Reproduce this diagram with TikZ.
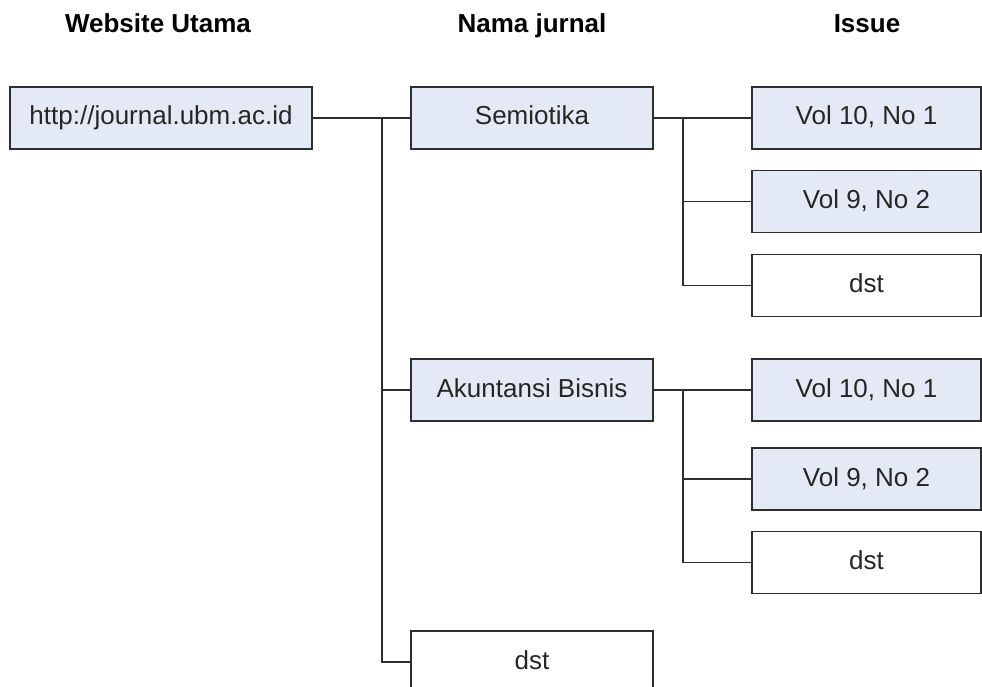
\documentclass[tikz,border=0pt]{standalone}
\usepackage{fontspec}
\setmainfont{Liberation Sans}
\definecolor{boxfill}{HTML}{E4EAF5}
\definecolor{boxdraw}{HTML}{2E2E2E}
\definecolor{txt}{HTML}{262626}
\begin{document}
\begin{tikzpicture}[x=1pt,y=-1pt,
  box/.style={draw=boxdraw,line width=1.4pt,rectangle,inner sep=0pt,
    minimum height=62pt,text height=19pt,text depth=5pt,text=txt,
    font=\fontsize{26}{30}\selectfont},
  bluebox/.style={box,fill=boxfill},
  whitebox/.style={box,fill=white},
  head/.style={font=\fontsize{26}{30}\selectfont\bfseries,text=black,anchor=base,inner sep=0pt},
  conn/.style={draw=boxdraw,line width=1.4pt}]
\useasboundingbox (0,0) rectangle (982,687);
\clip (0,0) rectangle (982,687);
\fill[white] (0,0) rectangle (982,687);
% headers
\node[head] (h1) at (158,33) {Website Utama};
\node[head] (h2) at (532,33) {Nama jurnal};
\node[head] (h3) at (867,33) {Issue};
% root
\node[bluebox,minimum width=302pt] (root) at (161,118) {http://journal.ubm.ac.id};
% journals
\node[bluebox,minimum width=242pt] (sem) at (532,118) {Semiotika};
\node[bluebox,minimum width=242pt] (aku) at (532,390) {Akuntansi Bisnis};
\node[whitebox,minimum width=242pt] (dstm) at (532,662) {dst};
% issues group 1
\node[bluebox,minimum width=229pt] (a1) at (866.5,118) {Vol 10, No 1};
\node[bluebox,minimum width=229pt] (a2) at (866.5,201.5) {Vol 9, No 2};
\node[whitebox,minimum width=229pt] (a3) at (866.5,285.5) {dst};
% issues group 2
\node[bluebox,minimum width=229pt] (b1) at (866.5,390) {Vol 10, No 1};
\node[bluebox,minimum width=229pt] (b2) at (866.5,479) {Vol 9, No 2};
\node[whitebox,minimum width=229pt] (b3) at (866.5,562.5) {dst};
% connectors
\coordinate (j1) at (382,118);
\coordinate (j2) at (683,118);
\coordinate (j3) at (683,390);
\draw[conn] (root.east) -- (sem.west);
\draw[conn] (j1) |- (aku.west);
\draw[conn] (j1) |- (dstm.west);
\draw[conn] (sem.east) -- (a1.west);
\draw[conn] (j2) |- (a2.west);
\draw[conn] (j2) |- (a3.west);
\draw[conn] (aku.east) -- (b1.west);
\draw[conn] (j3) |- (b2.west);
\draw[conn] (j3) |- (b3.west);
\end{tikzpicture}
\end{document}
